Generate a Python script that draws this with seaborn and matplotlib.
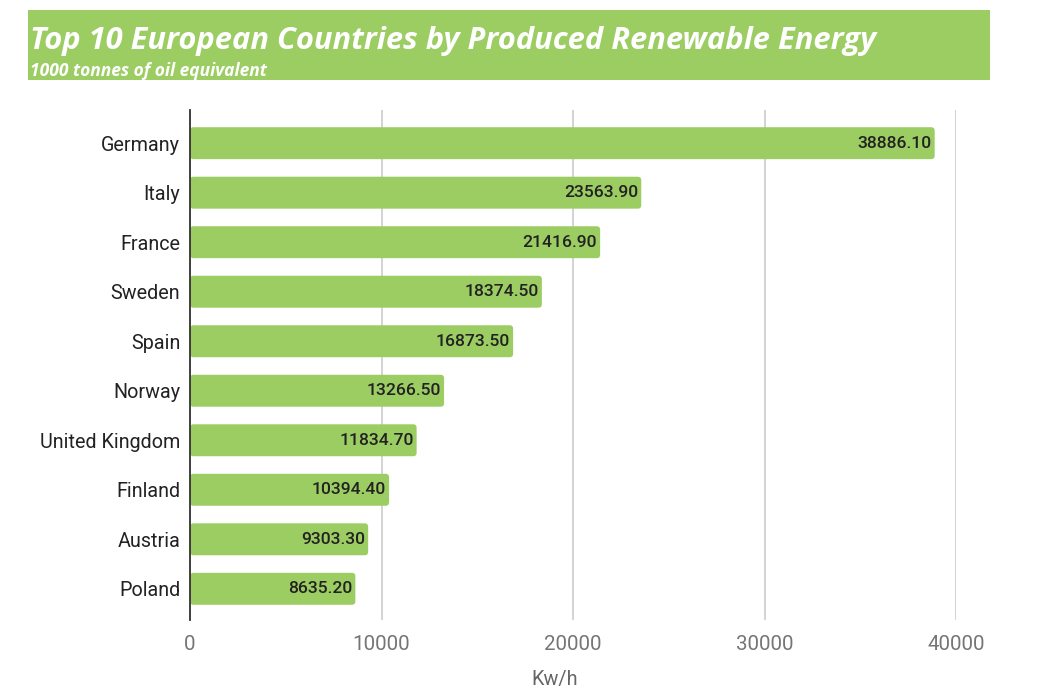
import matplotlib
matplotlib.use("Agg")
import matplotlib.pyplot as plt
import seaborn as sns
import pandas as pd
from matplotlib.patches import FancyBboxPatch, Rectangle

countries = ["Germany", "Italy", "France", "Sweden", "Spain", "Norway",
             "United Kingdom", "Finland", "Austria", "Poland"]
values = [38886.10, 23563.90, 21416.90, 18374.50, 16873.50, 13266.50,
          11834.70, 10394.40, 9303.30, 8635.20]
x_ticks = [0, 10000, 20000, 30000, 40000]
title = "Top 10 European Countries by Produced Renewable Energy"
subtitle = "1000 tonnes of oil equivalent"
x_label = "Kw/h"

GREEN = "#9ccd63"

df = pd.DataFrame({"country": countries, "value": values})

sns.set_theme(style="white")
plt.rcParams["font.family"] = ["Roboto", "DejaVu Sans"]

W, H = 1045, 693
fig = plt.figure(figsize=(W / 100, H / 100), dpi=100)
ax_l, ax_r, ax_t, ax_b = 190, 956, 110, 620
ax = fig.add_axes([ax_l / W, 1 - ax_b / H, (ax_r - ax_l) / W, (ax_b - ax_t) / H])

sns.barplot(data=df, x="value", y="country", color=GREEN, saturation=1,
            width=0.645, ax=ax, orient="h")

ax.set_xlim(0, 40000)
ax.set_ylim(9.63, -0.67)

# rounded bar corners
px_x = 40000 / (ax_r - ax_l)
px_y = (9.63 + 0.67) / (ax_b - ax_t)
r = 3.5
for p in list(ax.patches):
    if isinstance(p, Rectangle):
        x0, y0 = p.get_x(), p.get_y()
        w, h = p.get_width(), p.get_height()
        fb = FancyBboxPatch((x0, y0), w, h,
                            boxstyle=f"round,pad=0,rounding_size={r * px_x}",
                            mutation_aspect=px_y / px_x,
                            facecolor=GREEN, edgecolor="none", zorder=2)
        p.set_visible(False)
        ax.add_patch(fb)

# value labels
for i, v in enumerate(values):
    ax.text(v - 3 * px_x, i, f"{v:.2f}", ha="right", va="center",
            fontsize=12.6, fontweight="medium", color="#222222", zorder=3)

ax.set_xticks(x_ticks)
ax.set_xticklabels([str(t) for t in x_ticks])
ax.grid(axis="x", color="#cccccc", linewidth=1.2, zorder=0)
ax.set_axisbelow(True)
for s in ["top", "right", "bottom"]:
    ax.spines[s].set_visible(False)
ax.spines["left"].set_color("#333333")
ax.spines["left"].set_linewidth(1.3)
ax.spines["left"].set_zorder(4)

ax.tick_params(axis="y", length=0, pad=7, labelsize=14.2, labelcolor="#222222")
ax.tick_params(axis="x", length=0, pad=11, labelsize=14.8, labelcolor="#757575")
ax.set_ylabel("")
ax.set_xlabel(x_label, fontsize=14.3, color="#666666")
ax.xaxis.set_label_coords((555 - ax_l) / (ax_r - ax_l), -(680 - ax_b) / (ax_b - ax_t), transform=ax.transAxes)
ax.xaxis.label.set_va("center")

# title banner
banner = Rectangle((28 / W, 1 - 80 / H), (990 - 28) / W, 70 / H,
                   transform=fig.transFigure, facecolor=GREEN, edgecolor="none", zorder=0)
fig.patches.append(banner)
fig.text(30 / W, 1 - 49 / H, title, fontsize=22.2, fontweight="bold", fontstyle="italic",
         color="white", family=["Open Sans", "DejaVu Sans"], va="baseline", ha="left")
fig.text(30 / W, 1 - 76 / H, subtitle, fontsize=12.5, fontweight="bold", fontstyle="italic",
         color="white", family=["Open Sans", "DejaVu Sans"], va="baseline", ha="left")

fig.savefig("out.png", dpi=100, facecolor="white")
